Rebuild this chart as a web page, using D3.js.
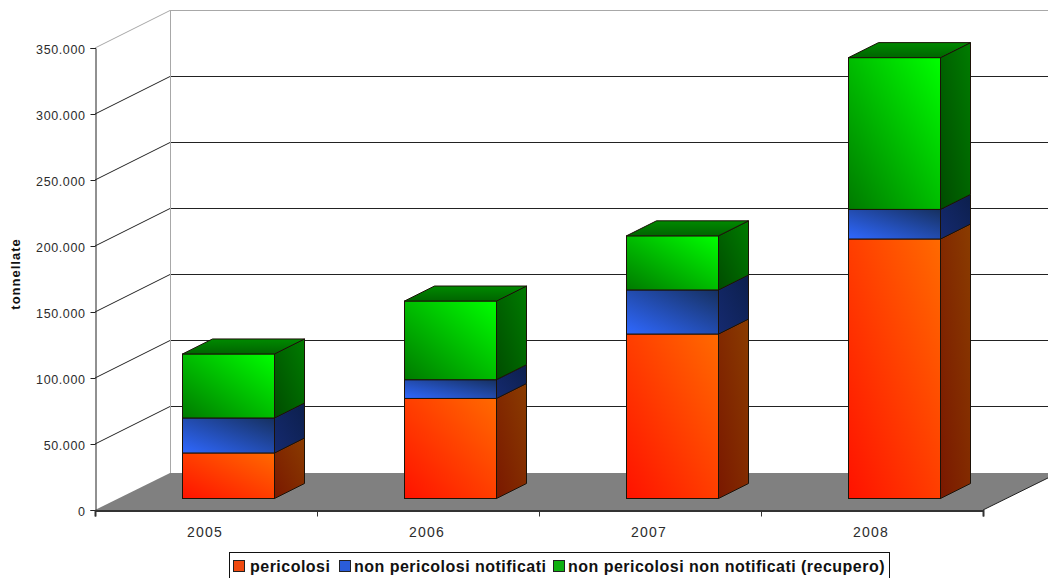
<!DOCTYPE html>
<html><head><meta charset="utf-8">
<script src="https://cdn.jsdelivr.net/npm/d3@7"></script>
<style>
html,body{margin:0;padding:0;background:#fff}
svg{display:block}
text{font-family:"Liberation Sans",Arial,sans-serif}
</style></head><body><svg id="c" width="1048" height="578"></svg>
<script>
const years = ["2005","2006","2007","2008"];
const seriesNames = ["pericolosi","non pericolosi notificati","non pericolosi non notificati (recupero)"];
const pericolosi = [34500,75800,124600,196600];
const notificati = [26500,14200,33400,22400];
const recupero = [48500,59600,41000,115000];
const yTicks = [0,50000,100000,150000,200000,250000,300000,350000];
const seriesColors = [
  {a:"#ff1200",b:"#ff6a00",sa:"#7a1800",sb:"#8a3c00",sw:"#f04a10"},
  {a:"#2f68ff",b:"#16305f",sa:"#152a70",sb:"#0c1f4c",sw:"#2a5cd8"},
  {a:"#007a00",b:"#00ff00",sa:"#004c00",sb:"#007c00",sw:"#10b010"}
];

const W=1048,H=578;
const left=95,right=983,y0=510,yTop=48;
const wallDx=75,wallDy=-37;
const barDx=22.5,barDy=-11.5,depthX=30,depthY=-15;
const barW=92;

const svg=d3.select("#c");
const defs=svg.append("defs");
seriesColors.forEach((c,i)=>{
  const f=defs.append("linearGradient").attr("id","f"+i).attr("x1",0).attr("y1",1).attr("x2",1).attr("y2",0);
  f.append("stop").attr("offset",0).attr("stop-color",c.a);
  f.append("stop").attr("offset",1).attr("stop-color",c.b);
  const s=defs.append("linearGradient").attr("id","s"+i).attr("x1",0).attr("y1",1).attr("x2",1).attr("y2",0);
  s.append("stop").attr("offset",0).attr("stop-color",c.sa);
  s.append("stop").attr("offset",1).attr("stop-color",c.sb);
});
const t=defs.append("linearGradient").attr("id","top").attr("x1",0).attr("y1",1).attr("x2",0).attr("y2",0);
t.append("stop").attr("offset",0).attr("stop-color","#006400");
t.append("stop").attr("offset",1).attr("stop-color","#008a00");

const y=d3.scaleLinear().domain([0,350000]).range([y0,yTop]);
const x=d3.scaleBand().domain(years).range([left,right]).padding(0);
const xEdge=d3.scaleLinear().domain([0,years.length]).range([left,right]);

// walls and gridlines
const g=svg.append("g");
yTicks.forEach(v=>{
  const yy=y(v);
  const col=v===350000?"#a8a8a8":"#222";
  if(v>0){
    const back=Math.round(yy+wallDy)-.5;
    g.append("line").attr("x1",left).attr("y1",yy).attr("x2",left+wallDx).attr("y2",back).attr("stroke",col).attr("stroke-width",1);
    g.append("line").attr("x1",left+wallDx).attr("y1",back).attr("x2",W).attr("y2",back).attr("stroke",col).attr("stroke-width",1);
  }
});
g.append("line").attr("x1",left+wallDx+.5).attr("x2",left+wallDx+.5).attr("y1",y(350000)+wallDy).attr("y2",y0+wallDy).attr("stroke","#a8a8a8");

// floor
g.append("polygon").attr("fill","#808080")
 .attr("points",[[left,y0],[right,y0],[right+wallDx,y0+wallDy],[left+wallDx,y0+wallDy]].join(" "));
g.append("line").attr("x1",right).attr("y1",y0).attr("x2",right+wallDx).attr("y2",y0+wallDy).attr("stroke","#222");

// stacked bars
const rows=years.map((yr,i)=>({year:yr,s0:pericolosi[i],s1:notificati[i],s2:recupero[i]}));
const stack=d3.stack().keys(["s0","s1","s2"])(rows);
const stroke="#1c1208";
const barX=yr=>x(yr)+x.bandwidth()/2-barW/2+barDx;
stack.forEach((layer,si)=>{
  const lg=svg.append("g");
  layer.forEach(d=>{
    const X=Math.floor(barX(d.data.year))+.5, yb=y(d[0])+barDy, yt=y(d[1])+barDy;
    lg.append("rect").attr("x",X).attr("y",yt).attr("width",barW).attr("height",yb-yt)
      .attr("fill",`url(#f${si})`).attr("stroke",stroke).attr("stroke-width",1);
    lg.append("polygon").attr("fill",`url(#s${si})`).attr("stroke",stroke).attr("stroke-width",1)
      .attr("points",[[X+barW,yb],[X+barW,yt],[X+barW+depthX,yt+depthY],[X+barW+depthX,yb+depthY]].join(" "));
    if(si===stack.length-1){
      lg.append("polygon").attr("fill","url(#top)").attr("stroke",stroke).attr("stroke-width",1)
        .attr("points",[[X,yt],[X+barW,yt],[X+barW+depthX,yt+depthY],[X+depthX,yt+depthY]].join(" "));
    }
  });
});

// axes
const fmt=v=>d3.format(",")(v).replace(/,/g,".");
const ay=svg.append("g").attr("transform",`translate(${left+.5},0)`)
  .call(d3.axisLeft(y).tickValues(yTicks).tickFormat(fmt).tickSize(5).tickPadding(5));
ay.selectAll("text").attr("font-size",12.5).attr("letter-spacing",.6).attr("fill","#2c2c2c").attr("font-family",'"Liberation Sans",Arial,sans-serif').attr("dy","0.42em");
ay.selectAll("line,path").attr("stroke","#222");
const ax=svg.append("g").attr("transform",`translate(0,${y0+.5})`)
  .call(d3.axisBottom(xEdge).ticks(years.length).tickFormat("").tickSize(6));
ax.selectAll("line").attr("stroke","#333");
ax.select("path").attr("stroke","#333").attr("stroke-width",2);
const al=svg.append("g").attr("transform",`translate(-1,${y0+.5})`)
  .call(d3.axisBottom(x).tickSize(0).tickPadding(13));
al.select("path").remove();
al.selectAll("text").attr("font-size",14).attr("letter-spacing",1.2).attr("fill","#2c2c2c").attr("font-family",'"Liberation Sans",Arial,sans-serif').attr("dy","0.95em");

// y title
svg.append("text").attr("transform","translate(20,274) rotate(-90)").attr("text-anchor","middle")
  .attr("font-size",13).attr("font-weight","bold").attr("letter-spacing",1).attr("fill","#111").text("tonnellate");

// legend
const lg=svg.append("g");
lg.append("rect").attr("x",229.5).attr("y",552.5).attr("width",660).attr("height",30).attr("fill","#fff").attr("stroke","#111");
const swatchX=[233,339,553], textX=[250,354,568];
seriesNames.forEach((n,i)=>{
  lg.append("rect").attr("x",swatchX[i]+.5).attr("y",560.5).attr("width",11).attr("height",11)
    .attr("fill",seriesColors[i].sw).attr("stroke","#222");
  lg.append("text").attr("x",textX[i]).attr("y",571.5).attr("font-size",16).attr("font-weight","bold")
    .attr("letter-spacing",.48).attr("fill","#111").text(n);
});
</script></body></html>
